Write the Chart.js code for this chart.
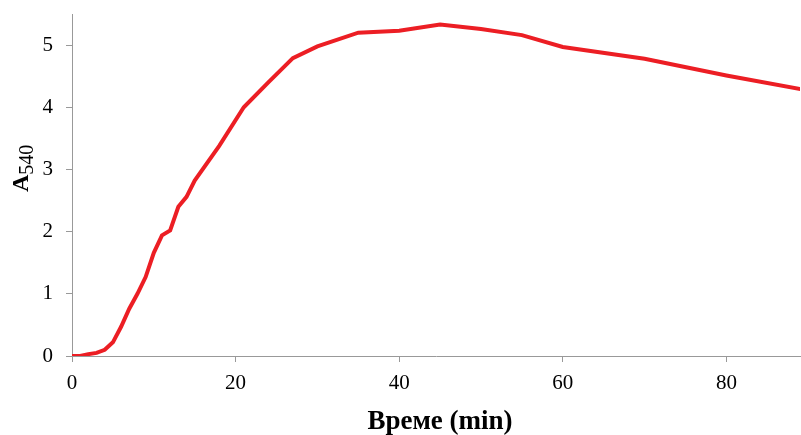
<!DOCTYPE html>
<html>
<head>
<meta charset="utf-8">
<script src="https://cdn.jsdelivr.net/npm/chart.js@4"></script>
<style>
  html, body { margin: 0; padding: 0; background: #fff; }
  #wrap { width: 801px; height: 435px; }
</style>
</head>
<body>
<div id="wrap"><canvas id="chart" width="801" height="435"></canvas></div>
<script>
// time (min) and absorbance at 540 nm
const times = [0, 1, 2, 3, 4, 5, 6, 7, 8, 9, 10, 11, 12, 13, 14, 15, 18, 21, 24, 27, 30, 35, 40, 45, 50, 55, 60, 70, 80, 90];
const absorbance = [0, 0, 0.03, 0.05, 0.1, 0.22, 0.47, 0.76, 1.0, 1.27, 1.66, 1.94, 2.02, 2.4, 2.56, 2.82, 3.38, 4.0, 4.4, 4.79, 4.98, 5.2, 5.23, 5.33, 5.26, 5.16, 4.97, 4.78, 4.51, 4.27];
const xTicks = [0, 20, 40, 60, 80];
const yTicks = [0, 1, 2, 3, 4, 5];

const xTitle = 'Време (min)';
const yTitleMain = 'A';
const yTitleSub = '540';

const serif = '"Liberation Serif", "Times New Roman", serif';

// axis titles drawn by hand (needs a subscript)
const titles = {
    id: 'titles',
    afterDraw(chart) {
        const ctx = chart.ctx;
        ctx.save();
        ctx.fillStyle = '#000';
        ctx.font = 'bold 27px ' + serif;
        ctx.textAlign = 'center';
        ctx.textBaseline = 'alphabetic';
        ctx.fillText(xTitle, 440, 429);

        ctx.translate(28, 180);
        ctx.rotate(-Math.PI / 2);
        ctx.textAlign = 'left';
        ctx.font = 'bold 24px ' + serif;
        const wA = ctx.measureText(yTitleMain).width;
        ctx.fillText(yTitleMain, -12, 0);
        ctx.font = '20px ' + serif;
        ctx.fillText(yTitleSub, -12 + wA, 5);
        ctx.restore();
    }
};

const ctx = document.getElementById('chart').getContext('2d');
new Chart(ctx, {
    type: 'line',
    data: {
        datasets: [{
            data: times.map((t, i) => ({ x: t, y: absorbance[i] })),
            borderColor: 'rgb(236, 30, 36)',
            borderWidth: 4,
            pointRadius: 0,
            tension: 0,
            fill: false
        }]
    },
    options: {
        responsive: false,
        animation: false,
        layout: { padding: { top: 14, right: 1, left: 0, bottom: 0 } },
        plugins: {
            legend: { display: false },
            tooltip: { enabled: false }
        },
        scales: {
            x: {
                type: 'linear',
                min: 0,
                max: 89,
                afterBuildTicks: axis => { axis.ticks = xTicks.map(v => ({ value: v })); },
                afterFit: axis => { axis.height = 79; axis.paddingLeft = 0; axis.paddingRight = 0; },
                grid: { drawOnChartArea: false, tickLength: 6, color: '#999' },
                border: { color: '#999', width: 1 },
                ticks: {
                    color: '#000',
                    padding: 9,
                    maxRotation: 0,
                    font: { family: serif, size: 21 }
                }
            },
            y: {
                min: 0,
                max: 5.5,
                afterBuildTicks: axis => { axis.ticks = yTicks.map(v => ({ value: v })); },
                afterFit: axis => { axis.width = 72; axis.paddingTop = 0; axis.paddingBottom = 0; },
                grid: { drawOnChartArea: false, tickLength: 6, color: '#999' },
                border: { color: '#999', width: 1 },
                ticks: {
                    color: '#000',
                    padding: 13,
                    font: { family: serif, size: 21 }
                }
            }
        }
    },
    plugins: [titles]
});
</script>
</body>
</html>
